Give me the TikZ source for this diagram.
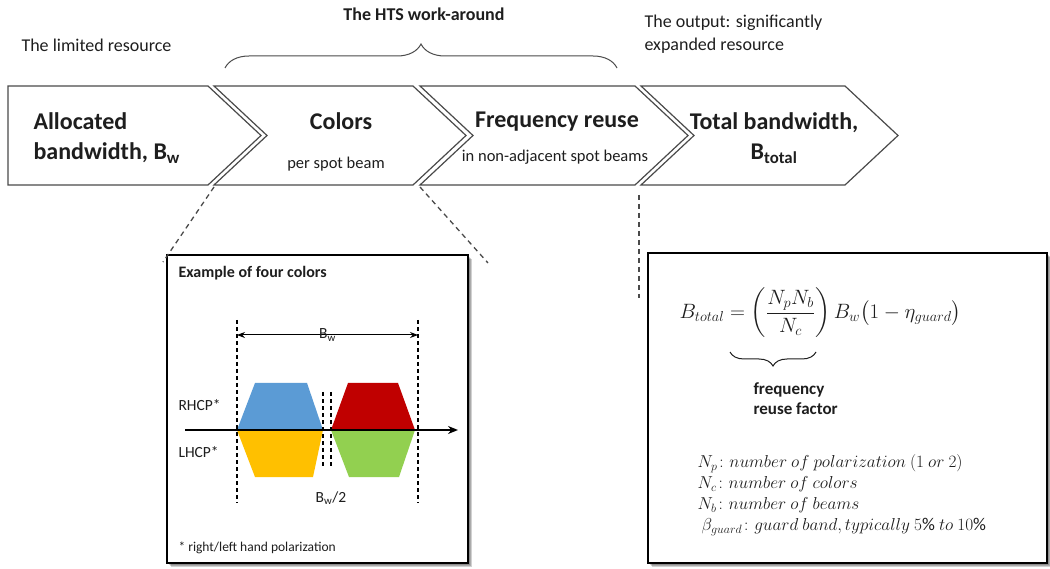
\documentclass[tikz,border=0pt]{standalone}
\usepackage{amsmath}
\usepackage{fontspec}
\setmainfont{Carlito}
\usetikzlibrary{calc, arrows.meta, decorations.pathreplacing}

\definecolor{chevgray}{HTML}{4A4A4A}
\definecolor{txt}{HTML}{1E1E1E}
\definecolor{bandblue}{HTML}{5B9BD5}
\definecolor{bandred}{HTML}{C00000}
\definecolor{bandyellow}{HTML}{FFC000}
\definecolor{bandgreen}{HTML}{92D050}

\begin{document}
\begin{tikzpicture}[x=1pt, y=-1pt,
  chev/.style={draw=chevgray, line width=1.2pt, fill=white, line join=miter},
  head/.style={font=\fontsize{24}{30}\selectfont\bfseries, text=txt},
  sub/.style={font=\fontsize{16.5}{20}\selectfont, text=txt},
  note/.style={font=\fontsize{18}{23}\selectfont, text=txt, align=left},
  small/.style={font=\fontsize{15.5}{18}\selectfont, text=txt},
  panel/.style={draw=black, line width=1.2pt, fill=white},
  shade/.style={fill=black, opacity=0.18},
  guide/.style={draw=chevgray, line width=1.3pt, dash pattern=on 5pt off 4pt},
  bandedge/.style={draw=black, line width=1.1pt, dash pattern=on 4pt off 3pt}]
  \useasboundingbox (0,0) rectangle (1050,569);

  % titoli
  \node[font=\fontsize{18}{22}\selectfont\bfseries, text=txt] (hts) at (424,14) {The HTS work-around};
  \draw[line width=1pt, chevgray, decorate, decoration={brace, amplitude=24pt, aspect=0.5}]
    (225,68) -- (617,68);
  \node[note, anchor=west] (limited) at (18,45) {The limited resource};
  \node[note, anchor=west] (output) at (641,34) {The output: significantly\\expanded resource};

  % frecce
  \draw[chev] (8,86) -- (208,86) -- (261,135.5) -- (208,185) -- (8,185) -- cycle;
  \draw[chev] (214,86) -- (413,86) -- (466,135.5) -- (413,185) -- (214,185) -- (267,135.5) -- cycle;
  \draw[chev] (420,86) -- (635,86) -- (688,135.5) -- (635,185) -- (420,185) -- (473,135.5) -- cycle;
  \draw[chev] (641,86) -- (845,86) -- (898,135.5) -- (845,185) -- (641,185) -- (694,135.5) -- cycle;

  \node[head, anchor=west, align=left] (alloc) at (30,138) {Allocated\\bandwidth, B\textsubscript{w}};
  \node[head] (colors) at (341,121) {Colors};
  \node[sub] (perspot) at (336,164) {per spot beam};
  \node[head] (reuse) at (557,122) {Frequency reuse};
  \node[sub] (nonadj) at (555,157) {in non-adjacent spot beams};
  \node[head, align=center] (total) at (774,138) {Total bandwidth,\\B\textsubscript{total}};

  % riquadri con ombra
  \foreach \s in {1,2,3,4} {
    \fill[shade] (167+\s,255+\s) rectangle (468+\s,563+\s);
    \fill[shade] (648+\s,253+\s) rectangle (1047+\s,563+\s);
  }
  \draw[panel] (167,255) rectangle (468,563);
  \draw[panel] (648,253) rectangle (1047,563);

  % linee di zoom
  \coordinate (c2sw) at (214,187);
  \coordinate (c3sw) at (420,187);
  \coordinate (c4sw) at (639,195);
  \coordinate (zl) at (163,262);
  \coordinate (zr) at (488,263);
  \coordinate (zd) at (639,298);
  \draw[guide] (c2sw) -- (zl);
  \draw[guide] (c3sw) -- (zr);
  \draw[guide] (c4sw) -- (zd);

  % esempio a quattro colori
  \node[small, font=\fontsize{16}{19}\selectfont\bfseries, anchor=west] (extitle) at (175,273) {Example of four colors};
  \fill[bandblue] (237,430) -- (255,383) -- (307,383) -- (323,430) -- cycle;
  \fill[bandred] (331,430) -- (348,383) -- (398,383) -- (415,430) -- cycle;
  \fill[bandyellow] (237,430) -- (323,430) -- (313,477) -- (255,477) -- cycle;
  \fill[bandgreen] (331,430) -- (415,430) -- (399,477) -- (349,477) -- cycle;

  \coordinate (bl) at (237,320);
  \coordinate (br) at (418,320);
  \draw[bandedge] (bl) -- (237,503);
  \draw[bandedge] (br) -- (418,503);
  \draw[bandedge] (323,392) -- (323,468);
  \draw[bandedge] (331,392) -- (331,468);

  \coordinate (ax0) at (185,430);
  \coordinate (ax1) at (458,430);
  \draw[line width=2pt, -{Stealth[length=10pt, width=8pt]}] (ax0) -- (ax1);
  \draw[line width=1pt, {Stealth[length=8pt, width=6pt]}-{Stealth[length=8pt, width=6pt]}]
    (237,335) -- (418,335) node[midway, small] (bwlab) {B\textsubscript{w}};

  \node[small, anchor=west] (rhcp) at (175,405) {RHCP*};
  \node[small, anchor=west] (lhcp) at (175,452) {LHCP*};
  \node[small] (half) at (331,498) {B\textsubscript{w}/2};
  \node[small, font=\fontsize{13.5}{16}\selectfont, anchor=west] (foot) at (175,548) {* right/left hand polarization};

  % formula
  \node[anchor=west, text=txt, font=\fontsize{19.5}{22}\selectfont] (eqn) at (676,313)
    {$\displaystyle B_{total} = \left(\frac{N_pN_b}{N_c}\right) B_w\bigl(1-\eta_{guard}\bigr)$};
  \draw[line width=1pt, txt, decorate, decoration={brace, amplitude=14pt, aspect=0.5}]
    (816,352) -- (730,352);
  \node[font=\fontsize{17}{20}\selectfont\bfseries, text=txt, align=left, anchor=west] (rf) at (750,399)
    {frequency\\reuse factor};
  \node[font=\fontsize{18}{21}\selectfont, text=txt, align=left, anchor=west] (defs) at (694,495)
    {$N_p\colon number\ of\ polarization\ (1\ or\ 2)$\\
     $N_c\colon number\ of\ colors$\\
     $N_b\colon number\ of\ beams$\\
     \ $\beta_{guard}\colon guard\ band, typically\ 5\%\ to\ 10\%$};
\end{tikzpicture}
\end{document}
